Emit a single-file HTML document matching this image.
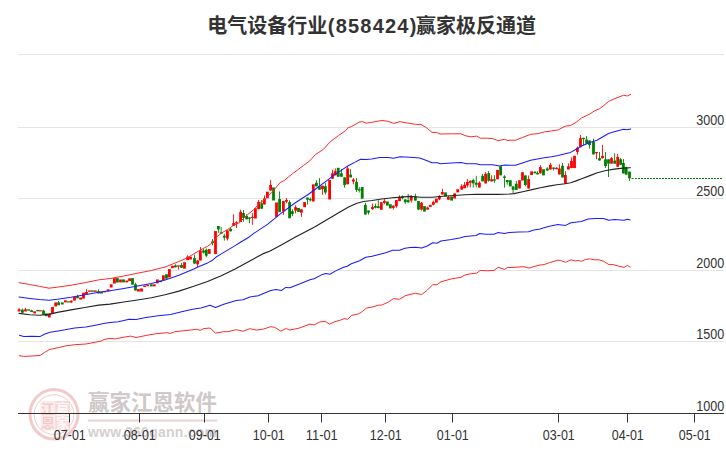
<!DOCTYPE html>
<html lang="zh"><head><meta charset="utf-8"><title>电气设备行业(858424)赢家极反通道</title>
<style>
html,body{margin:0;padding:0;background:#fff;}
body{width:726px;height:450px;overflow:hidden;}
svg{display:block}
.ax{font-family:"Liberation Sans",Arial,sans-serif;font-size:14px;fill:#333;}
.title{font-family:"Liberation Sans","Noto Sans CJK SC",sans-serif;font-size:20px;font-weight:bold;fill:#333;}
.wm{font-family:"Liberation Sans","Noto Sans CJK SC",sans-serif;font-weight:bold;}
</style></head><body>
<svg width="726" height="450" viewBox="0 0 726 450">
<rect width="726" height="450" fill="#fff"/>
<text y="33.3" class="title"><tspan x="207.3">电气设备行业</tspan><tspan x="327.8" textLength="88.5" lengthAdjust="spacing">(858424)</tspan><tspan x="416">赢家极反通道</tspan></text>
<!-- watermark -->
<g opacity="0.30">
<ellipse cx="54" cy="414.3" rx="24" ry="24.8" fill="none" stroke="#d9534f" stroke-width="3"/>
<circle cx="54" cy="414.6" r="19.8" fill="none" stroke="#d9534f" stroke-width="1"/>
<rect x="40.5" y="401" width="29.5" height="29.5" fill="#d9534f" fill-opacity="0.35"/>
<rect x="55.3" y="401" width="14.7" height="14.3" fill="#d9534f" fill-opacity="0.6"/>
<rect x="55.3" y="416.2" width="14.7" height="14.3" fill="#d9534f" fill-opacity="0.6"/>
<text x="47.8" y="413.6" text-anchor="middle" class="wm" font-size="13.5" fill="#d9534f">江</text>
<text x="47.8" y="428.4" text-anchor="middle" class="wm" font-size="13.5" fill="#d9534f">恩</text>
</g>
<text x="62.7" y="413.6" text-anchor="middle" class="wm" font-size="13.5" fill="#fff" fill-opacity="0.85">赢</text>
<text x="62.7" y="428.4" text-anchor="middle" class="wm" font-size="13.5" fill="#fff" fill-opacity="0.85">家</text>
<text x="88" y="410" class="wm" font-size="21.4" fill="#cec8c8" textLength="129">赢家江恩软件</text>
<line x1="88" y1="420.6" x2="217" y2="420.6" stroke="#ead3d3" stroke-width="2"/>
<text x="88" y="437" class="wm" font-size="14" fill="#d4d0d0" textLength="129" lengthAdjust="spacing">www.360gann.com</text>
<!-- grid -->
<line x1="18" y1="54.5" x2="724" y2="54.5" stroke="#e4e4e4" stroke-width="1"/>
<line x1="18" y1="127.5" x2="724" y2="127.5" stroke="#e4e4e4" stroke-width="1"/>
<line x1="18" y1="198.5" x2="724" y2="198.5" stroke="#e4e4e4" stroke-width="1"/>
<line x1="18" y1="270.5" x2="724" y2="270.5" stroke="#e4e4e4" stroke-width="1"/>
<line x1="18" y1="341.5" x2="724" y2="341.5" stroke="#e4e4e4" stroke-width="1"/>

<line x1="18" y1="413.5" x2="724" y2="413.5" stroke="#333" stroke-width="1"/>
<line x1="69.5" y1="413" x2="69.5" y2="422.5" stroke="#333" stroke-width="1"/>
<text x="53.8" y="439.8" class="ax" textLength="32" lengthAdjust="spacingAndGlyphs">07-01</text>
<line x1="139.5" y1="413" x2="139.5" y2="422.5" stroke="#333" stroke-width="1"/>
<text x="123.8" y="439.8" class="ax" textLength="32" lengthAdjust="spacingAndGlyphs">08-01</text>
<line x1="204.5" y1="413" x2="204.5" y2="422.5" stroke="#333" stroke-width="1"/>
<text x="188.8" y="439.8" class="ax" textLength="32" lengthAdjust="spacingAndGlyphs">09-01</text>
<line x1="268.5" y1="413" x2="268.5" y2="422.5" stroke="#333" stroke-width="1"/>
<text x="252.8" y="439.8" class="ax" textLength="32" lengthAdjust="spacingAndGlyphs">10-01</text>
<line x1="321.5" y1="413" x2="321.5" y2="422.5" stroke="#333" stroke-width="1"/>
<text x="305.8" y="439.8" class="ax" textLength="32" lengthAdjust="spacingAndGlyphs">11-01</text>
<line x1="385.5" y1="413" x2="385.5" y2="422.5" stroke="#333" stroke-width="1"/>
<text x="369.8" y="439.8" class="ax" textLength="32" lengthAdjust="spacingAndGlyphs">12-01</text>
<line x1="452.5" y1="413" x2="452.5" y2="422.5" stroke="#333" stroke-width="1"/>
<text x="436.8" y="439.8" class="ax" textLength="32" lengthAdjust="spacingAndGlyphs">01-01</text>
<line x1="558.5" y1="413" x2="558.5" y2="422.5" stroke="#333" stroke-width="1"/>
<text x="542.8" y="439.8" class="ax" textLength="32" lengthAdjust="spacingAndGlyphs">03-01</text>
<line x1="627.5" y1="413" x2="627.5" y2="422.5" stroke="#333" stroke-width="1"/>
<text x="611.8" y="439.8" class="ax" textLength="32" lengthAdjust="spacingAndGlyphs">04-01</text>
<line x1="694.5" y1="413" x2="694.5" y2="422.5" stroke="#333" stroke-width="1"/>
<text x="678.8" y="439.8" class="ax" textLength="32" lengthAdjust="spacingAndGlyphs">05-01</text>

<text x="696.3" y="124.5" class="ax" textLength="28" lengthAdjust="spacingAndGlyphs">3000</text>
<text x="696.3" y="196.0" class="ax" textLength="28" lengthAdjust="spacingAndGlyphs">2500</text>
<text x="696.3" y="268.0" class="ax" textLength="28" lengthAdjust="spacingAndGlyphs">2000</text>
<text x="696.3" y="339.0" class="ax" textLength="28" lengthAdjust="spacingAndGlyphs">1500</text>
<text x="696.3" y="410.5" class="ax" textLength="28" lengthAdjust="spacingAndGlyphs">1000</text>

<line x1="631.5" y1="178.5" x2="633.6" y2="178.5" stroke="#008000" stroke-width="1"/>
<line x1="635" y1="178.5" x2="679" y2="178.5" stroke="#008000" stroke-width="1" stroke-dasharray="2,1"/>
<line x1="681" y1="178.5" x2="723" y2="178.5" stroke="#008000" stroke-width="1" stroke-dasharray="2,1"/>
<!-- candles -->
<g fill="#ff0000">
<rect x="17.7" y="309.3" width="2.8" height="2.1"/>
<rect x="18.65" y="307.9" width="0.9" height="3.4"/>
<rect x="24.1" y="309.3" width="2.8" height="2.1"/>
<rect x="25.05" y="307.9" width="0.9" height="3.4"/>
<rect x="33.2" y="311.3" width="2.8" height="2.1"/>
<rect x="39.0" y="310.2" width="2.8" height="1.2"/>
<rect x="47.9" y="313.4" width="2.8" height="4.1"/>
<rect x="51.1" y="306.9" width="2.8" height="6.1"/>
<rect x="54.3" y="302.4" width="2.8" height="4.1"/>
<rect x="64.0" y="300.3" width="2.8" height="2.1"/>
<rect x="69.8" y="300.6" width="2.8" height="1.8"/>
<rect x="70.78" y="300.6" width="0.9" height="2.5"/>
<rect x="73.1" y="296.9" width="2.8" height="3.7"/>
<rect x="79.2" y="297.5" width="2.8" height="2.1"/>
<rect x="82.1" y="292.7" width="2.8" height="5.9"/>
<rect x="85.1" y="292.0" width="2.8" height="2.1"/>
<rect x="86.00" y="289.3" width="0.9" height="4.8"/>
<rect x="88.1" y="290.4" width="2.8" height="1.4"/>
<rect x="94.0" y="290.4" width="2.8" height="1.4"/>
<rect x="103.2" y="291.2" width="2.8" height="1.2"/>
<rect x="106.7" y="289.3" width="2.8" height="2.1"/>
<rect x="109.8" y="284.3" width="2.8" height="3.2"/>
<rect x="113.0" y="278.1" width="2.8" height="5.5"/>
<rect x="119.1" y="279.4" width="2.8" height="3.0"/>
<rect x="125.3" y="280.5" width="2.8" height="1.9"/>
<rect x="128.2" y="278.3" width="2.8" height="2.8"/>
<rect x="137.0" y="289.1" width="2.8" height="2.5"/>
<rect x="140.1" y="288.4" width="2.8" height="3.2"/>
<rect x="143.2" y="285.6" width="2.8" height="1.4"/>
<rect x="146.3" y="284.9" width="2.8" height="1.4"/>
<rect x="152.9" y="284.3" width="2.8" height="2.1"/>
<rect x="156.0" y="279.4" width="2.8" height="3.9"/>
<rect x="162.0" y="275.3" width="2.8" height="4.8"/>
<rect x="168.0" y="269.1" width="2.8" height="8.3"/>
<rect x="171.1" y="265.7" width="2.8" height="2.5"/>
<rect x="177.0" y="265.3" width="2.8" height="1.2"/>
<rect x="177.94" y="265.7" width="0.9" height="3.9"/>
<rect x="183.1" y="262.2" width="2.8" height="6.5"/>
<rect x="186.2" y="256.7" width="2.8" height="3.4"/>
<rect x="187.17" y="255.3" width="0.9" height="4.8"/>
<rect x="189.1" y="256.7" width="2.8" height="2.8"/>
<rect x="196.2" y="260.4" width="2.8" height="3.9"/>
<rect x="197.15" y="260.4" width="0.9" height="6.6"/>
<rect x="199.0" y="250.5" width="2.8" height="9.9"/>
<rect x="199.98" y="247.1" width="0.9" height="13.4"/>
<rect x="207.9" y="249.1" width="2.8" height="4.8"/>
<rect x="214.1" y="231.1" width="2.8" height="23.0"/>
<rect x="226.0" y="230.4" width="2.8" height="8.2"/>
<rect x="226.95" y="230.4" width="0.9" height="10.1"/>
<rect x="232.2" y="223.1" width="2.8" height="2.7"/>
<rect x="233.12" y="214.3" width="0.9" height="11.6"/>
<rect x="235.1" y="222.2" width="2.8" height="1.4"/>
<rect x="236.02" y="221.2" width="0.9" height="6.8"/>
<rect x="239.2" y="211.8" width="2.8" height="10.2"/>
<rect x="240.11" y="209.8" width="0.9" height="12.2"/>
<rect x="251.0" y="216.8" width="2.8" height="1.2"/>
<rect x="251.93" y="213.0" width="0.9" height="11.9"/>
<rect x="254.0" y="208.2" width="2.8" height="10.3"/>
<rect x="257.2" y="201.9" width="2.8" height="7.2"/>
<rect x="258.20" y="200.0" width="0.9" height="9.2"/>
<rect x="263.0" y="198.5" width="2.8" height="5.9"/>
<rect x="264.00" y="195.5" width="0.9" height="9.0"/>
<rect x="266.0" y="191.7" width="2.8" height="6.6"/>
<rect x="269.2" y="185.0" width="2.8" height="5.5"/>
<rect x="270.16" y="180.1" width="0.9" height="10.5"/>
<rect x="275.1" y="202.4" width="2.8" height="14.5"/>
<rect x="282.0" y="201.0" width="2.8" height="10.3"/>
<rect x="282.94" y="201.0" width="0.9" height="13.8"/>
<rect x="285.1" y="199.9" width="2.8" height="1.8"/>
<rect x="286.04" y="198.0" width="0.9" height="5.1"/>
<rect x="294.2" y="207.2" width="2.8" height="3.4"/>
<rect x="295.13" y="205.4" width="0.9" height="8.0"/>
<rect x="300.0" y="209.3" width="2.8" height="3.4"/>
<rect x="300.98" y="209.3" width="0.9" height="7.6"/>
<rect x="303.2" y="202.1" width="2.8" height="5.1"/>
<rect x="311.9" y="184.3" width="2.8" height="17.2"/>
<rect x="321.1" y="185.7" width="2.8" height="3.4"/>
<rect x="322.08" y="185.7" width="0.9" height="9.0"/>
<rect x="328.2" y="179.9" width="2.8" height="19.6"/>
<rect x="331.1" y="173.3" width="2.8" height="5.5"/>
<rect x="332.07" y="169.8" width="0.9" height="9.0"/>
<rect x="333.9" y="171.2" width="2.8" height="4.1"/>
<rect x="334.89" y="168.4" width="0.9" height="6.9"/>
<rect x="346.2" y="168.4" width="2.8" height="15.8"/>
<rect x="347.15" y="166.4" width="0.9" height="17.9"/>
<rect x="352.0" y="179.5" width="2.8" height="2.1"/>
<rect x="352.94" y="178.1" width="0.9" height="6.2"/>
<rect x="371.1" y="207.0" width="2.8" height="2.1"/>
<rect x="372.02" y="203.6" width="0.9" height="6.2"/>
<rect x="379.9" y="202.2" width="2.8" height="7.6"/>
<rect x="383.0" y="200.8" width="2.8" height="2.1"/>
<rect x="383.93" y="198.7" width="0.9" height="5.5"/>
<rect x="391.9" y="205.6" width="2.8" height="2.3"/>
<rect x="392.81" y="205.6" width="0.9" height="4.1"/>
<rect x="395.0" y="200.1" width="2.8" height="6.2"/>
<rect x="395.91" y="200.1" width="0.9" height="7.6"/>
<rect x="398.1" y="197.4" width="2.8" height="3.7"/>
<rect x="399.08" y="195.3" width="0.9" height="5.8"/>
<rect x="409.8" y="196.5" width="2.8" height="4.1"/>
<rect x="410.79" y="195.1" width="0.9" height="7.6"/>
<rect x="420.1" y="202.7" width="2.8" height="6.9"/>
<rect x="421.05" y="202.0" width="0.9" height="8.7"/>
<rect x="426.2" y="207.5" width="2.8" height="2.1"/>
<rect x="427.11" y="206.6" width="0.9" height="3.0"/>
<rect x="428.9" y="204.8" width="2.8" height="2.1"/>
<rect x="431.9" y="202.0" width="2.8" height="2.8"/>
<rect x="432.83" y="200.6" width="0.9" height="4.8"/>
<rect x="435.0" y="198.6" width="2.8" height="4.1"/>
<rect x="438.0" y="196.1" width="2.8" height="3.2"/>
<rect x="438.96" y="195.1" width="0.9" height="5.1"/>
<rect x="441.0" y="192.0" width="2.8" height="2.5"/>
<rect x="441.99" y="188.9" width="0.9" height="5.5"/>
<rect x="447.0" y="196.9" width="2.8" height="2.8"/>
<rect x="447.98" y="195.8" width="0.9" height="3.9"/>
<rect x="453.2" y="193.3" width="2.8" height="5.2"/>
<rect x="456.3" y="189.2" width="2.8" height="3.2"/>
<rect x="460.3" y="186.2" width="2.8" height="3.4"/>
<rect x="461.20" y="184.1" width="0.9" height="5.5"/>
<rect x="463.2" y="184.8" width="2.8" height="3.4"/>
<rect x="464.16" y="182.0" width="0.9" height="6.2"/>
<rect x="466.0" y="182.0" width="2.8" height="3.4"/>
<rect x="466.92" y="179.0" width="0.9" height="8.5"/>
<rect x="468.9" y="180.7" width="2.8" height="2.1"/>
<rect x="469.81" y="180.7" width="0.9" height="6.9"/>
<rect x="478.0" y="182.7" width="2.8" height="4.8"/>
<rect x="478.97" y="181.3" width="0.9" height="6.2"/>
<rect x="484.2" y="173.8" width="2.8" height="9.6"/>
<rect x="485.17" y="172.1" width="0.9" height="11.3"/>
<rect x="490.2" y="179.3" width="2.8" height="2.1"/>
<rect x="491.16" y="175.2" width="0.9" height="6.2"/>
<rect x="496.1" y="169.9" width="2.8" height="9.4"/>
<rect x="518.1" y="180.2" width="2.8" height="8.3"/>
<rect x="521.1" y="172.2" width="2.8" height="8.3"/>
<rect x="527.2" y="179.1" width="2.8" height="9.4"/>
<rect x="528.15" y="175.4" width="0.9" height="13.1"/>
<rect x="530.2" y="171.3" width="2.8" height="3.7"/>
<rect x="539.0" y="167.1" width="2.8" height="6.2"/>
<rect x="539.99" y="165.1" width="0.9" height="8.3"/>
<rect x="549.0" y="164.8" width="2.8" height="4.7"/>
<rect x="549.98" y="163.0" width="0.9" height="6.5"/>
<rect x="555.1" y="167.8" width="2.8" height="1.4"/>
<rect x="556.04" y="167.1" width="0.9" height="2.1"/>
<rect x="558.0" y="168.5" width="2.8" height="5.9"/>
<rect x="559.00" y="164.4" width="0.9" height="10.1"/>
<rect x="564.0" y="175.0" width="2.8" height="8.7"/>
<rect x="564.99" y="171.3" width="0.9" height="12.4"/>
<rect x="567.0" y="166.4" width="2.8" height="3.0"/>
<rect x="567.95" y="163.4" width="0.9" height="6.1"/>
<rect x="570.1" y="160.9" width="2.8" height="7.2"/>
<rect x="571.05" y="157.5" width="0.9" height="10.6"/>
<rect x="573.1" y="155.7" width="2.8" height="12.4"/>
<rect x="576.0" y="147.8" width="2.8" height="4.1"/>
<rect x="576.97" y="146.5" width="0.9" height="8.3"/>
<rect x="579.1" y="138.2" width="2.8" height="9.0"/>
<rect x="580.07" y="135.0" width="0.9" height="12.1"/>
<rect x="595.1" y="152.0" width="2.8" height="1.2"/>
<rect x="596.09" y="152.0" width="0.9" height="7.3"/>
<rect x="601.1" y="155.9" width="2.8" height="2.4"/>
<rect x="602.02" y="144.9" width="0.9" height="13.4"/>
<rect x="610.1" y="158.1" width="2.8" height="5.5"/>
<rect x="611.00" y="157.1" width="0.9" height="6.5"/>
<rect x="616.3" y="156.9" width="2.8" height="9.8"/>
<rect x="617.24" y="153.8" width="0.9" height="12.8"/>
</g>
<g fill="#008000">
<rect x="21.0" y="309.7" width="2.8" height="3.0"/>
<rect x="21.95" y="308.6" width="0.9" height="4.8"/>
<rect x="27.2" y="309.3" width="2.8" height="1.4"/>
<rect x="30.2" y="310.4" width="2.8" height="1.7"/>
<rect x="31.18" y="309.7" width="0.9" height="2.3"/>
<rect x="36.3" y="309.9" width="2.8" height="1.4"/>
<rect x="42.1" y="310.6" width="2.8" height="4.1"/>
<rect x="43.10" y="309.7" width="0.9" height="5.1"/>
<rect x="44.9" y="313.4" width="2.8" height="2.8"/>
<rect x="57.2" y="302.4" width="2.8" height="2.8"/>
<rect x="58.11" y="301.0" width="0.9" height="4.1"/>
<rect x="60.9" y="302.4" width="2.8" height="2.1"/>
<rect x="66.9" y="301.3" width="2.8" height="1.2"/>
<rect x="76.1" y="296.2" width="2.8" height="2.1"/>
<rect x="77.05" y="294.8" width="0.9" height="3.4"/>
<rect x="91.0" y="290.4" width="2.8" height="1.4"/>
<rect x="97.1" y="291.3" width="2.8" height="2.1"/>
<rect x="98.06" y="289.3" width="0.9" height="4.1"/>
<rect x="100.1" y="291.8" width="2.8" height="1.7"/>
<rect x="116.0" y="278.1" width="2.8" height="4.4"/>
<rect x="122.1" y="279.4" width="2.8" height="3.0"/>
<rect x="131.1" y="278.1" width="2.8" height="6.6"/>
<rect x="134.1" y="284.3" width="2.8" height="6.2"/>
<rect x="135.03" y="282.9" width="0.9" height="7.6"/>
<rect x="149.9" y="284.3" width="2.8" height="2.1"/>
<rect x="159.1" y="280.5" width="2.8" height="1.7"/>
<rect x="165.1" y="274.2" width="2.8" height="4.5"/>
<rect x="174.0" y="265.4" width="2.8" height="1.9"/>
<rect x="174.98" y="264.3" width="0.9" height="3.0"/>
<rect x="180.1" y="265.0" width="2.8" height="2.8"/>
<rect x="181.04" y="262.9" width="0.9" height="4.8"/>
<rect x="193.1" y="258.1" width="2.8" height="5.5"/>
<rect x="194.05" y="254.6" width="0.9" height="9.0"/>
<rect x="202.1" y="250.5" width="2.8" height="2.1"/>
<rect x="203.01" y="249.1" width="0.9" height="4.4"/>
<rect x="204.9" y="249.8" width="2.8" height="5.9"/>
<rect x="205.83" y="248.4" width="0.9" height="9.0"/>
<rect x="211.1" y="241.5" width="2.8" height="1.5"/>
<rect x="212.00" y="239.1" width="0.9" height="6.3"/>
<rect x="217.0" y="226.0" width="2.8" height="3.4"/>
<rect x="217.93" y="226.0" width="0.9" height="6.8"/>
<rect x="219.7" y="232.3" width="2.8" height="1.4"/>
<rect x="220.68" y="227.0" width="0.9" height="6.8"/>
<rect x="222.9" y="235.7" width="2.8" height="1.9"/>
<rect x="223.87" y="233.8" width="0.9" height="6.8"/>
<rect x="229.2" y="228.9" width="2.8" height="2.4"/>
<rect x="230.13" y="227.5" width="0.9" height="3.9"/>
<rect x="242.1" y="213.0" width="2.8" height="4.8"/>
<rect x="243.01" y="210.1" width="0.9" height="11.6"/>
<rect x="245.2" y="215.9" width="2.8" height="3.4"/>
<rect x="246.14" y="214.3" width="0.9" height="5.0"/>
<rect x="248.1" y="217.4" width="2.8" height="1.4"/>
<rect x="249.03" y="217.4" width="0.9" height="5.8"/>
<rect x="260.3" y="203.4" width="2.8" height="5.3"/>
<rect x="261.23" y="200.0" width="0.9" height="8.7"/>
<rect x="272.1" y="187.4" width="2.8" height="13.1"/>
<rect x="278.2" y="199.0" width="2.8" height="13.1"/>
<rect x="279.15" y="191.4" width="0.9" height="20.7"/>
<rect x="288.2" y="202.1" width="2.8" height="16.1"/>
<rect x="289.14" y="200.3" width="0.9" height="17.9"/>
<rect x="291.0" y="211.3" width="2.8" height="2.8"/>
<rect x="291.96" y="209.3" width="0.9" height="6.9"/>
<rect x="297.1" y="207.9" width="2.8" height="4.1"/>
<rect x="306.1" y="197.6" width="2.8" height="2.1"/>
<rect x="307.04" y="197.6" width="0.9" height="6.9"/>
<rect x="308.9" y="199.1" width="2.8" height="1.2"/>
<rect x="309.83" y="197.4" width="0.9" height="4.1"/>
<rect x="315.0" y="182.9" width="2.8" height="3.4"/>
<rect x="315.95" y="180.2" width="0.9" height="6.2"/>
<rect x="318.1" y="186.3" width="2.8" height="3.4"/>
<rect x="319.05" y="178.1" width="0.9" height="11.7"/>
<rect x="324.0" y="186.3" width="2.8" height="6.2"/>
<rect x="324.91" y="182.9" width="0.9" height="11.7"/>
<rect x="336.8" y="167.8" width="2.8" height="9.0"/>
<rect x="340.0" y="173.3" width="2.8" height="3.4"/>
<rect x="340.95" y="169.1" width="0.9" height="7.6"/>
<rect x="343.2" y="177.4" width="2.8" height="7.6"/>
<rect x="344.12" y="177.4" width="0.9" height="10.3"/>
<rect x="349.2" y="174.6" width="2.8" height="2.8"/>
<rect x="350.18" y="169.1" width="0.9" height="8.3"/>
<rect x="355.1" y="181.8" width="2.8" height="8.0"/>
<rect x="356.04" y="178.1" width="0.9" height="13.8"/>
<rect x="357.8" y="189.1" width="2.8" height="1.4"/>
<rect x="358.79" y="187.0" width="0.9" height="5.5"/>
<rect x="360.8" y="187.0" width="2.8" height="11.7"/>
<rect x="364.0" y="204.9" width="2.8" height="9.6"/>
<rect x="364.99" y="202.9" width="0.9" height="11.7"/>
<rect x="367.1" y="210.5" width="2.8" height="2.1"/>
<rect x="368.02" y="210.5" width="0.9" height="4.1"/>
<rect x="374.0" y="206.0" width="2.8" height="1.7"/>
<rect x="374.98" y="203.6" width="0.9" height="4.8"/>
<rect x="376.9" y="206.3" width="2.8" height="1.7"/>
<rect x="377.80" y="200.1" width="0.9" height="8.3"/>
<rect x="386.0" y="201.5" width="2.8" height="4.1"/>
<rect x="389.0" y="204.3" width="2.8" height="4.1"/>
<rect x="401.0" y="196.4" width="2.8" height="1.7"/>
<rect x="401.91" y="195.3" width="0.9" height="4.1"/>
<rect x="403.8" y="199.4" width="2.8" height="2.8"/>
<rect x="404.80" y="199.4" width="0.9" height="4.8"/>
<rect x="406.7" y="200.1" width="2.8" height="2.1"/>
<rect x="407.69" y="193.9" width="0.9" height="9.0"/>
<rect x="414.0" y="196.5" width="2.8" height="4.1"/>
<rect x="414.92" y="193.7" width="0.9" height="6.9"/>
<rect x="417.1" y="201.0" width="2.8" height="8.5"/>
<rect x="418.09" y="201.0" width="0.9" height="9.2"/>
<rect x="423.1" y="206.1" width="2.8" height="5.5"/>
<rect x="444.1" y="192.4" width="2.8" height="4.1"/>
<rect x="450.2" y="196.5" width="2.8" height="4.1"/>
<rect x="471.8" y="180.0" width="2.8" height="3.4"/>
<rect x="472.77" y="178.6" width="0.9" height="9.0"/>
<rect x="474.9" y="182.7" width="2.8" height="2.1"/>
<rect x="475.80" y="175.8" width="0.9" height="11.7"/>
<rect x="481.2" y="175.8" width="2.8" height="5.5"/>
<rect x="482.14" y="173.8" width="0.9" height="7.6"/>
<rect x="487.3" y="173.1" width="2.8" height="7.6"/>
<rect x="488.20" y="171.0" width="0.9" height="10.7"/>
<rect x="493.0" y="179.3" width="2.8" height="1.4"/>
<rect x="493.92" y="175.2" width="0.9" height="7.6"/>
<rect x="499.2" y="166.2" width="2.8" height="9.2"/>
<rect x="503.1" y="176.5" width="2.8" height="1.4"/>
<rect x="504.04" y="175.2" width="0.9" height="12.4"/>
<rect x="505.8" y="180.0" width="2.8" height="2.1"/>
<rect x="506.73" y="180.0" width="0.9" height="4.8"/>
<rect x="508.9" y="180.2" width="2.8" height="6.2"/>
<rect x="511.7" y="186.4" width="2.8" height="3.4"/>
<rect x="512.65" y="186.4" width="0.9" height="7.2"/>
<rect x="514.9" y="183.7" width="2.8" height="6.2"/>
<rect x="515.89" y="180.9" width="0.9" height="9.0"/>
<rect x="524.0" y="175.4" width="2.8" height="9.6"/>
<rect x="524.91" y="175.4" width="0.9" height="11.0"/>
<rect x="533.5" y="171.9" width="2.8" height="1.4"/>
<rect x="534.48" y="171.0" width="0.9" height="2.3"/>
<rect x="536.1" y="173.0" width="2.8" height="1.4"/>
<rect x="537.10" y="171.3" width="0.9" height="3.2"/>
<rect x="542.1" y="169.2" width="2.8" height="6.2"/>
<rect x="545.9" y="168.5" width="2.8" height="2.1"/>
<rect x="546.88" y="167.1" width="0.9" height="3.4"/>
<rect x="552.2" y="167.5" width="2.8" height="1.4"/>
<rect x="553.15" y="167.5" width="0.9" height="3.0"/>
<rect x="561.1" y="165.7" width="2.8" height="11.7"/>
<rect x="562.03" y="163.0" width="0.9" height="14.5"/>
<rect x="582.1" y="137.8" width="2.8" height="1.4"/>
<rect x="583.03" y="137.8" width="0.9" height="7.3"/>
<rect x="585.2" y="139.6" width="2.8" height="4.1"/>
<rect x="586.13" y="136.1" width="0.9" height="7.6"/>
<rect x="588.1" y="140.5" width="2.8" height="4.5"/>
<rect x="589.10" y="140.5" width="0.9" height="8.0"/>
<rect x="592.1" y="141.6" width="2.8" height="12.8"/>
<rect x="593.03" y="138.8" width="0.9" height="15.6"/>
<rect x="598.1" y="158.1" width="2.8" height="2.4"/>
<rect x="599.09" y="152.0" width="0.9" height="8.6"/>
<rect x="604.1" y="159.3" width="2.8" height="6.7"/>
<rect x="605.01" y="152.0" width="0.9" height="15.9"/>
<rect x="607.1" y="159.3" width="2.8" height="4.3"/>
<rect x="608.01" y="159.3" width="0.9" height="17.7"/>
<rect x="613.3" y="160.6" width="2.8" height="3.1"/>
<rect x="614.24" y="153.2" width="0.9" height="10.4"/>
<rect x="619.2" y="159.3" width="2.8" height="5.5"/>
<rect x="620.11" y="158.1" width="0.9" height="6.7"/>
<rect x="622.0" y="163.0" width="2.8" height="10.4"/>
<rect x="622.99" y="159.1" width="0.9" height="14.3"/>
<rect x="624.8" y="167.3" width="2.8" height="7.3"/>
<rect x="625.80" y="166.7" width="0.9" height="7.9"/>
<rect x="628.1" y="171.6" width="2.8" height="6.7"/>
<rect x="629.10" y="171.6" width="0.9" height="9.2"/>
</g>
<!-- curves -->
<g fill="none" stroke-width="1.05" stroke-linejoin="round" stroke-linecap="round">
<polyline stroke="#ff2a2a" stroke-width="1" points="19.0,282.7 29.8,284.5 39.4,286.3 49.0,288.2 57.3,287.2 71.0,285.2 84.9,282.7 98.6,279.9 110.0,278.5 123.8,276.0 137.5,273.2 151.3,270.5 165.1,267.0 178.9,261.5 186.9,258.0 193.8,253.9 200.7,249.8 207.5,246.3 213.0,242.2 217.2,236.6 222.0,232.8 227.8,229.4 233.6,225.3 239.4,222.7 244.2,217.8 249.0,213.5 253.8,209.6 257.7,205.3 261.5,201.9 266.5,197.7 272.0,192.2 276.1,187.4 280.2,182.5 284.4,180.5 288.5,177.0 292.6,173.6 298.2,169.5 303.7,165.3 309.6,161.0 315.2,154.8 323.4,149.3 330.3,141.7 338.6,135.5 345.5,130.7 348.2,127.6 351.7,126.5 355.1,124.5 359.2,122.1 362.7,121.7 366.1,123.1 371.6,122.4 377.1,121.3 382.0,120.5 388.2,121.3 393.7,123.4 400.0,121.7 405.0,122.6 410.0,123.4 415.5,124.4 421.0,124.4 426.5,127.8 432.0,132.4 436.2,132.4 440.3,134.0 451.3,133.8 461.0,133.8 465.1,135.7 470.6,136.8 476.8,136.1 480.2,138.2 487.1,138.2 492.6,138.6 498.2,140.7 504.4,139.3 507.8,140.5 510.0,140.2 515.5,140.2 522.4,137.5 530.7,134.3 537.5,133.7 544.4,131.9 551.3,131.0 558.2,129.9 565.1,126.2 570.6,125.5 576.1,122.3 581.6,117.9 589.9,114.0 594.1,111.1 599.6,108.7 603.8,105.5 608.6,101.4 613.4,99.3 618.9,97.0 623.7,95.2 627.2,96.0 630.6,94.5"/>
<polyline stroke="#ff2a2a" stroke-width="1" points="19.4,355.7 23.8,356.4 32.0,356.0 40.3,355.4 44.4,352.5 49.9,349.4 58.2,347.7 65.1,346.0 74.7,344.7 85.8,344.0 95.4,342.2 100.9,341.1 105.0,339.2 110.0,338.5 115.5,338.9 123.8,337.2 130.7,336.1 136.2,337.5 145.8,335.5 155.5,333.8 166.5,332.7 170.6,333.4 174.7,331.7 187.1,330.4 196.8,329.3 200.2,330.4 203.7,328.6 210.0,328.0 215.5,333.1 223.8,331.7 227.9,331.7 236.2,329.7 243.1,331.2 249.9,328.7 256.8,330.1 263.7,329.0 270.6,326.7 274.7,327.3 280.9,331.2 286.4,328.3 289.2,330.1 298.2,328.4 305.0,326.0 310.0,324.0 314.1,325.0 319.6,322.0 325.2,321.3 329.3,324.1 334.8,321.7 340.3,320.2 344.4,318.6 347.9,319.3 351.3,315.5 358.2,314.0 361.7,312.0 366.5,308.0 372.0,307.1 378.9,305.1 381.6,305.1 388.5,302.0 393.3,298.6 399.5,299.3 405.0,295.8 410.0,294.4 415.5,293.4 421.7,294.5 427.2,290.3 432.7,284.6 436.9,284.8 441.0,281.8 451.3,278.9 461.0,277.3 465.1,274.9 470.6,273.8 476.8,273.1 480.2,270.4 487.1,270.8 494.0,270.4 498.2,267.3 504.4,269.4 507.8,267.3 510.0,267.6 524.0,266.7 529.0,268.2 534.0,266.5 540.0,265.0 544.1,264.6 549.6,262.6 557.9,260.2 560.7,260.5 565.5,262.3 571.0,259.8 575.1,260.9 577.9,260.5 581.3,261.3 585.5,259.5 589.6,258.8 594.4,259.8 599.2,259.8 603.4,261.2 608.9,264.6 613.0,264.6 618.5,266.1 624.0,267.4 627.5,265.4 630.2,267.1"/>
<polyline stroke="#1a1aff" points="19.0,297.1 29.8,298.5 39.4,299.6 49.0,300.3 57.3,299.3 71.0,297.3 84.9,294.8 98.6,292.3 110.0,290.7 123.8,288.4 137.5,286.0 151.3,283.6 165.1,280.1 178.9,275.3 193.8,269.0 197.9,267.0 207.5,262.9 211.7,260.8 215.8,257.3 221.3,253.9 235.1,245.6 240.0,242.5 248.9,237.2 253.8,233.4 267.5,224.4 281.3,213.2 295.0,203.0 308.9,194.0 318.3,187.0 326.5,180.8 334.8,174.6 340.0,171.4 343.0,169.1 348.2,165.8 355.1,162.1 360.6,159.3 366.1,159.6 371.6,158.9 379.9,157.5 388.2,157.5 393.7,158.2 400.0,156.8 410.0,157.2 419.6,157.9 425.2,159.9 432.0,162.7 437.5,162.7 440.3,163.7 451.3,163.0 461.0,162.6 466.5,163.7 476.1,163.7 480.2,164.8 492.6,164.8 499.5,166.0 505.0,165.0 510.0,165.3 515.5,165.3 522.4,163.0 530.7,160.2 537.5,158.9 544.4,157.8 551.3,156.8 558.2,155.4 565.1,153.8 570.6,152.4 576.1,149.2 581.6,146.1 589.9,142.5 596.9,140.3 603.8,136.2 608.6,133.5 613.4,132.1 618.9,130.4 623.7,129.3 627.2,129.7 630.6,128.9"/>
<polyline stroke="#1a1aff" points="19.4,335.3 23.8,336.4 32.0,336.3 40.3,336.4 44.4,334.2 49.9,332.3 58.2,330.9 65.1,329.8 74.7,328.0 85.8,327.0 95.4,325.2 103.7,323.6 110.0,322.4 118.3,321.7 129.3,319.3 136.2,319.6 145.8,317.5 158.2,315.8 170.6,314.4 181.6,311.8 192.6,309.3 200.9,307.9 210.0,305.2 215.5,307.4 223.8,304.2 236.2,300.5 243.1,299.8 249.9,297.0 258.2,295.7 270.6,290.4 276.1,289.5 281.6,290.4 285.8,287.4 289.9,287.7 299.5,284.0 310.0,279.8 314.1,278.8 322.4,274.4 325.8,273.5 330.0,274.2 334.8,271.4 343.0,267.5 347.2,266.2 351.3,263.7 359.6,260.7 365.8,257.2 372.0,256.3 378.9,254.5 385.8,252.8 392.6,250.3 399.5,250.3 405.0,248.3 410.0,247.6 415.5,247.2 421.7,248.1 427.2,246.0 432.7,242.8 436.9,243.2 441.0,241.0 451.3,239.4 459.6,237.9 465.2,236.5 476.2,235.5 479.6,233.5 485.8,234.2 494.0,234.2 498.2,232.6 504.4,233.5 509.2,232.6 518.9,232.0 528.5,231.7 534.0,230.0 540.0,229.0 548.3,226.5 557.9,224.4 565.5,225.4 571.0,222.7 581.3,221.4 588.2,218.9 595.1,218.5 603.4,218.5 608.9,220.3 614.4,219.6 624.0,220.3 627.5,219.2 630.2,219.9"/>
<polyline stroke="#222" stroke-width="1.15" points="19.0,313.4 29.8,314.8 39.4,315.2 49.0,314.4 57.3,312.4 71.0,309.9 84.9,307.5 98.6,305.1 110.0,304.1 123.8,302.0 137.5,300.0 151.3,297.8 165.1,294.7 178.9,291.1 193.8,286.3 207.5,281.5 215.8,278.0 221.3,275.7 235.1,269.0 248.9,261.5 262.6,253.9 269.6,251.2 281.3,245.0 295.0,237.3 308.9,229.9 315.5,226.6 323.8,221.5 332.0,216.7 340.3,211.8 348.6,207.0 356.8,203.3 363.7,201.5 372.0,200.5 381.6,199.0 392.6,197.8 400.9,197.1 410.0,196.4 421.0,197.2 432.0,197.2 443.0,196.2 454.0,195.5 465.0,194.7 476.0,194.2 487.0,194.4 498.0,194.4 510.0,194.0 514.1,193.6 523.8,191.5 532.0,189.6 540.3,187.8 548.6,186.1 556.8,184.8 565.1,183.7 570.6,182.7 576.1,180.9 581.6,178.8 589.9,175.6 597.3,172.8 605.9,170.5 614.4,169.1 623.0,168.1 630.3,167.7"/>
</g>
</svg>
</body></html>
